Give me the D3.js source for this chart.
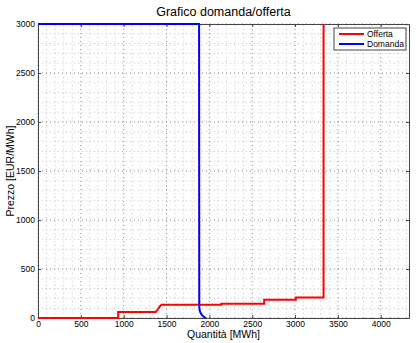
<!DOCTYPE html>
<html>
<head>
<meta charset="utf-8">
<script src="https://cdn.jsdelivr.net/npm/d3@7"></script>
<style>
  body { margin: 0; background: #fff; }
  text { font-family: "Liberation Sans", Arial, sans-serif; }
</style>
</head>
<body>
<script>
var width = 416;
var height = 343;

// curva di offerta (quantita, prezzo)
var offertaQ = [0, 936, 936, 1375, 1400, 1420, 1440, 2140, 2140, 2640, 2640, 3010, 3010, 3333, 3333];
var offertaP = [0, 0, 62, 62, 90, 115, 135, 135, 145, 145, 185, 185, 210, 210, 3000];

// curva di domanda
var domandaQ = [0, 1880, 1882, 1886, 1895, 1910, 1930, 1960];
var domandaP = [3000, 3000, 130, 80, 55, 35, 15, 0];

var xTicks = [0, 500, 1000, 1500, 2000, 2500, 3000, 3500, 4000];
var yTicks = [0, 500, 1000, 1500, 2000, 2500, 3000];
var seriesNames = ["Offerta", "Domanda"];
var seriesColors = ["#ff0000", "#0000ff"];

var margin = { left: 38, right: 7, top: 24, bottom: 25 };

var x = d3.scaleLinear().domain([0, 4330]).range([margin.left, width - margin.right]);
var y = d3.scaleLinear().domain([0, 3000]).range([height - margin.bottom, margin.top]);

var svg = d3.select("body").append("svg")
  .attr("width", width)
  .attr("height", height);

// griglia minore
var minor = d3.range(0, 4331, 100);
var minorY = d3.range(0, 3001, 100);
svg.append("g").selectAll("line")
  .data(minor.filter(function(d) { return d % 500 != 0; }))
  .enter().append("line")
  .attr("x1", function(d) { return x(d); })
  .attr("x2", function(d) { return x(d); })
  .attr("y1", y(0)).attr("y2", y(3000))
  .style("stroke", "#c4c4c4")
  .style("stroke-dasharray", "1,3");
svg.append("g").selectAll("line")
  .data(minorY.filter(function(d) { return d % 500 != 0; }))
  .enter().append("line")
  .attr("x1", x(0)).attr("x2", x(4330))
  .attr("y1", function(d) { return y(d); })
  .attr("y2", function(d) { return y(d); })
  .style("stroke", "#c4c4c4")
  .style("stroke-dasharray", "1,3");

// griglia maggiore
svg.append("g").selectAll("line")
  .data(xTicks)
  .enter().append("line")
  .attr("x1", function(d) { return x(d); })
  .attr("x2", function(d) { return x(d); })
  .attr("y1", y(0)).attr("y2", y(3000))
  .style("stroke", "#888")
  .style("stroke-dasharray", "1,3");
svg.append("g").selectAll("line")
  .data(yTicks)
  .enter().append("line")
  .attr("x1", x(0)).attr("x2", x(4330))
  .attr("y1", function(d) { return y(d); })
  .attr("y2", function(d) { return y(d); })
  .style("stroke", "#888")
  .style("stroke-dasharray", "1,3");

// assi
var fmt = d3.format("d");
svg.append("g")
  .attr("transform", "translate(0," + y(0) + ")")
  .call(d3.axisBottom(x).tickValues(xTicks).tickFormat(fmt).tickSizeInner(-3).tickSizeOuter(0).tickPadding(3));
svg.append("g")
  .attr("transform", "translate(" + x(0) + ",0)")
  .call(d3.axisLeft(y).tickValues(yTicks).tickFormat(fmt).tickSizeInner(-3).tickSizeOuter(0).tickPadding(3));
svg.append("g")
  .attr("transform", "translate(0," + y(3000) + ")")
  .call(d3.axisTop(x).tickValues(xTicks).tickSizeInner(-3).tickSizeOuter(0).tickFormat(""));
svg.append("g")
  .attr("transform", "translate(" + x(4330) + ",0)")
  .call(d3.axisRight(y).tickValues(yTicks).tickSizeInner(-3).tickSizeOuter(0).tickFormat(""));

svg.selectAll(".domain").style("stroke", "#444");
svg.selectAll(".tick line").style("stroke", "#444");
svg.selectAll(".tick text").style("font-size", "8.5px").style("fill", "#000")
  .style("font-family", "'Liberation Sans', Arial, sans-serif");

// curve
var line = d3.line()
  .x(function(d) { return x(d[0]); })
  .y(function(d) { return y(d[1]); });

var offerta = offertaQ.map(function(q, i) { return [q, offertaP[i]]; });
var domanda = domandaQ.map(function(q, i) { return [q, domandaP[i]]; });

svg.append("path")
  .datum(offerta)
  .attr("d", line)
  .style("fill", "none")
  .style("stroke", seriesColors[0])
  .style("stroke-width", 2);

svg.append("path")
  .datum(domanda)
  .attr("d", line)
  .style("fill", "none")
  .style("stroke", seriesColors[1])
  .style("stroke-width", 2);

// legenda
var legend = svg.append("g").attr("transform", "translate(334,28)");
legend.append("rect")
  .attr("width", 72).attr("height", 22)
  .style("fill", "#fff")
  .style("stroke", "#444");
legend.selectAll("line")
  .data(seriesNames)
  .enter().append("line")
  .attr("x1", 5).attr("x2", 30)
  .attr("y1", function(d, i) { return 6 + i * 10; })
  .attr("y2", function(d, i) { return 6 + i * 10; })
  .style("stroke", function(d, i) { return seriesColors[i]; })
  .style("stroke-width", 2);
legend.selectAll("text")
  .data(seriesNames)
  .enter().append("text")
  .attr("x", 33)
  .attr("y", function(d, i) { return 9 + i * 10; })
  .style("font-size", "8.5px")
  .text(function(d) { return d; });

// titoli
svg.append("text")
  .attr("x", (x(0) + x(4330)) / 2)
  .attr("y", 16)
  .attr("text-anchor", "middle")
  .style("font-size", "12.5px")
  .text("Grafico domanda/offerta");

svg.append("text")
  .attr("x", (x(0) + x(4330)) / 2)
  .attr("y", 338)
  .attr("text-anchor", "middle")
  .style("font-size", "10.5px")
  .text("Quantità [MWh]");

svg.append("text")
  .attr("transform", "translate(13.5," + (y(0) + y(3000)) / 2 + ") rotate(-90)")
  .attr("text-anchor", "middle")
  .style("font-size", "10.5px")
  .text("Prezzo [EUR/MWh]");
</script>
</body>
</html>
